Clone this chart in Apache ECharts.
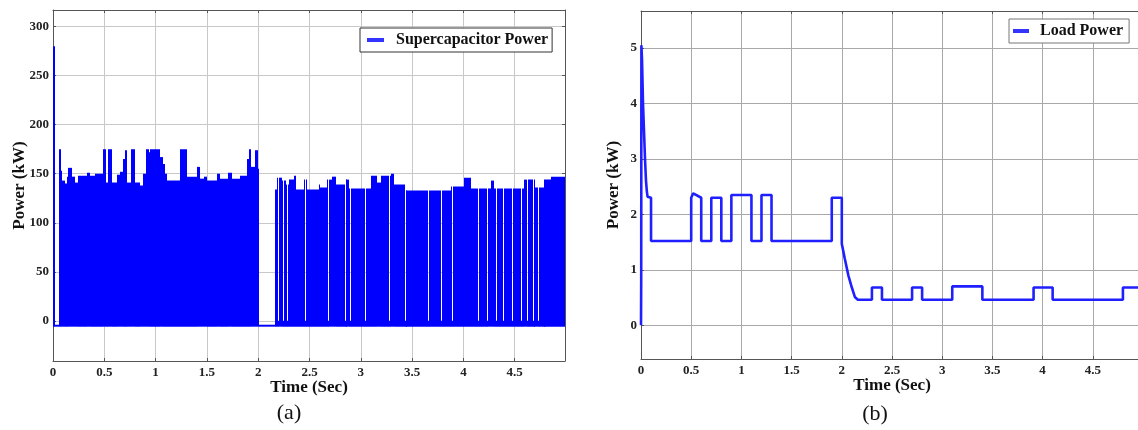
<!DOCTYPE html>
<html>
<head>
<meta charset="utf-8">
<title>Supercapacitor / load power</title>
<script src="https://cdn.jsdelivr.net/npm/echarts@6/dist/echarts.min.js"></script>
<style>
  html, body { margin: 0; padding: 0; background: #fff; }
  #main { width: 1138px; height: 430px; }
</style>
</head>
<body>
<div id="main"></div>
<script>
// tick labels
var timeTicks = [0, 0.5, 1, 1.5, 2, 2.5, 3, 3.5, 4, 4.5];
var capTicks = [0, 50, 100, 150, 200, 250, 300];
var loadTicks = [0, 1, 2, 3, 4, 5];

// (a) supercapacitor power - top edge of the switching band, as steps (sec, kW)
var capTime = [0, 0.016, 0.059, 0.078, 0.091, 0.117, 0.14, 0.15, 0.182, 0.215,
  0.247, 0.329, 0.361, 0.41, 0.49, 0.518, 0.54, 0.573, 0.622, 0.654,
  0.687, 0.703, 0.726, 0.758, 0.80, 0.85, 0.882, 0.908, 0.94, 0.95,
  1.04, 1.07, 1.09, 1.11, 1.24, 1.305, 1.40, 1.435, 1.47, 1.5,
  1.6, 1.63, 1.71, 1.745, 1.826, 1.89, 1.907, 1.93, 1.97, 1.995,
  2.012, 2.165, 2.184, 2.233, 2.266, 2.298, 2.347, 2.373, 2.445, 2.477,
  2.591, 2.607, 2.672, 2.721, 2.754, 2.852, 2.884, 3.096, 3.161, 3.193,
  3.291, 3.323, 3.437, 3.877, 4.007, 4.072, 4.268, 4.30, 4.593, 4.69,
  4.788, 4.854, 5.0];
var capPeak = [280, -4, 175, 153, 143, 140, 147, 156, 147, 141,
  148, 151, 148, 150, 175, 141, 175, 141, 149, 152,
  165, 174, 141, 175, 141, 138, 150, 175, 172, 175,
  167, 160, 150, 143, 175, 147, 157, 145, 147, 143,
  150, 145, 151, 145, 148, 165, 175, 157, 174, 155,
  -4, 134, 146, 143, 139, 144, 148, 134, 144, 134,
  139, 136, 144, 147, 139, 144, 135, 148, 141, 148,
  150, 139, 133, 137, 146, 135, 143, 135, 144, 136,
  144, 147, 147];
var capFloor = -6;
// thin white slots in the band after 2 s
var capGaps = [2.197, 2.246, 2.285, 2.457, 2.678, 2.848, 2.89, 3.044, 3.271, 3.428,
  3.655, 3.786, 3.89, 4.143, 4.231, 4.313, 4.388, 4.469, 4.558, 4.616,
  4.678, 4.727, 4.785];

// (b) load power (sec, kW)
var loadTime = [0, 0.002, 0.004, 0.01, 0.015, 0.02, 0.03, 0.04, 0.05, 0.058,
  0.065, 0.1, 0.1, 0.5, 0.5, 0.52, 0.6, 0.6, 0.7, 0.7,
  0.8, 0.8, 0.9, 0.9, 1.1, 1.1, 1.2, 1.2, 1.3, 1.3,
  1.9, 1.9, 2.0, 2.0, 2.03, 2.065, 2.1, 2.13, 2.16, 2.3,
  2.3, 2.4, 2.4, 2.7, 2.7, 2.8, 2.8, 3.1, 3.1, 3.4,
  3.4, 3.91, 3.91, 4.1, 4.1, 4.8, 4.8, 5.0];
var loadPower = [0, 0.8, 5.05, 4.8, 4.4, 4.0, 3.5, 3.0, 2.6, 2.42,
  2.32, 2.3, 1.52, 1.52, 2.3, 2.38, 2.3, 1.52, 1.52, 2.3,
  2.3, 1.52, 1.52, 2.35, 2.35, 1.52, 1.52, 2.35, 2.35, 1.52,
  1.52, 2.3, 2.3, 1.47, 1.2, 0.9, 0.68, 0.51, 0.46, 0.46,
  0.68, 0.68, 0.46, 0.46, 0.68, 0.68, 0.46, 0.46, 0.7, 0.7,
  0.46, 0.46, 0.68, 0.68, 0.46, 0.46, 0.68, 0.68];

function peakAt(t) {
  var v = capPeak[0];
  for (var i = 0; i < capTime.length; i++) {
    if (capTime[i] <= t) v = capPeak[i];
  }
  return v;
}
// breakpoints incl. the gap slots -> [t0, t1, level] blocks
var steps = capTime.map(function (t, i) { return [t, capPeak[i]]; });
capGaps.forEach(function (g) {
  steps.push([g, 0]);
  steps.push([g + 0.01, peakAt(g + 0.01)]);
});
steps.sort(function (a, b) { return a[0] - b[0]; });
var capData = [];
for (var i = 0; i < steps.length - 1; i++) {
  capData.push([steps[i][0], steps[i + 1][0], steps[i][1]]);
}
var loadData = loadTime.map(function (t, i) { return [t, loadPower[i]]; });

var serif = 'Liberation Serif';
var axisGray = '#555';
var labelStyle = { color: '#222', fontFamily: serif, fontWeight: 'bold', fontSize: 13 };
var nameStyle = { color: '#111', fontFamily: serif, fontWeight: 'bold', fontSize: 17 };

function mainX(grid, max, gridColor) {
  return {
    gridIndex: grid, type: 'value', min: 0, max: max, position: 'bottom',
    name: 'Time (Sec)', nameLocation: 'middle', nameGap: 18, nameTextStyle: nameStyle,
    nameMoveOverlap: false,
    axisLine: { show: true, onZero: false, lineStyle: { color: axisGray } },
    axisTick: { show: true, inside: true, length: 3, customValues: timeTicks, lineStyle: { color: axisGray } },
    axisLabel: Object.assign({ customValues: timeTicks, margin: 5 }, labelStyle),
    splitLine: { show: true, lineStyle: { color: gridColor, width: 1 } }
  };
}
function mirrorX(grid, max) {
  return {
    gridIndex: grid, type: 'value', min: 0, max: max, position: 'top',
    axisLine: { show: true, onZero: false, lineStyle: { color: axisGray } },
    axisTick: { show: true, inside: true, length: 3, customValues: timeTicks, lineStyle: { color: axisGray } },
    axisLabel: { show: false }, splitLine: { show: false }
  };
}
function mainY(grid, min, max, ticks, gap, gridColor) {
  return {
    gridIndex: grid, type: 'value', min: min, max: max, position: 'left',
    name: 'Power (kW)', nameLocation: 'middle', nameGap: gap, nameTextStyle: nameStyle,
    nameMoveOverlap: false,
    axisLine: { show: true, onZero: false, lineStyle: { color: axisGray } },
    axisTick: { show: true, inside: true, length: 3, customValues: ticks, lineStyle: { color: axisGray } },
    axisLabel: Object.assign({ customValues: ticks, margin: 4 }, labelStyle),
    splitLine: { show: true, lineStyle: { color: gridColor, width: 1 } }
  };
}
function mirrorY(grid, min, max, ticks) {
  return {
    gridIndex: grid, type: 'value', min: min, max: max, position: 'right',
    axisLine: { show: true, onZero: false, lineStyle: { color: axisGray } },
    axisTick: { show: true, inside: true, length: 3, customValues: ticks, lineStyle: { color: axisGray } },
    axisLabel: { show: false }, splitLine: { show: false }
  };
}

// one filled block per step, snapped to whole pixels so neighbours don't leave seams
function renderBlock(params, api) {
  var top = api.coord([api.value(0), api.value(2)]);
  var end = api.coord([api.value(1), capFloor]);
  var x0 = Math.round(top[0]);
  var x1 = Math.round(end[0]);
  return {
    type: 'rect',
    shape: { x: x0, y: top[1], width: Math.max(x1 - x0, 1), height: end[1] - top[1] },
    style: { fill: '#0000ff' }
  };
}

var myChart = echarts.init(document.getElementById('main'), null, { renderer: 'canvas' });

var option = {
  backgroundColor: '#fff',
  animation: false,
  grid: [
    { left: 53, top: 10, width: 512, height: 351, outerBoundsMode: 'none' },
    { left: 641, top: 11, width: 502, height: 348, outerBoundsMode: 'none' }
  ],
  xAxis: [
    mainX(0, 4.99, '#c8c8c8'),
    mainX(1, 5, '#a8a8a8'),
    mirrorX(0, 4.99),
    mirrorX(1, 5)
  ],
  yAxis: [
    mainY(0, -41, 317, capTicks, 25, '#c8c8c8'),
    mainY(1, -0.61, 5.67, loadTicks, 19, '#a8a8a8'),
    mirrorY(0, -41, 317, capTicks),
    mirrorY(1, -0.61, 5.67, loadTicks)
  ],
  legend: [
    {
      data: ['Supercapacitor Power'], left: 360, top: 28,
      padding: [4, 4, 4, 7], icon: 'rect', itemWidth: 17, itemHeight: 4,
      backgroundColor: '#fff', borderColor: '#333', borderWidth: 1,
      itemStyle: { color: '#3434ff' },
      textStyle: { color: '#111', fontFamily: serif, fontWeight: 'bold', fontSize: 16, padding: [0, 0, 0, 7] }
    },
    {
      data: ['Load Power'], left: 1009, top: 19,
      padding: [4, 6, 4, 4], icon: 'rect', itemWidth: 16, itemHeight: 4,
      backgroundColor: '#fff', borderColor: '#777', borderWidth: 1,
      itemStyle: { color: '#3434ff' },
      textStyle: { color: '#111', fontFamily: serif, fontWeight: 'bold', fontSize: 16, padding: [0, 0, 0, 6] }
    }
  ],
  graphic: [
    { type: 'text', x: 289, y: 413, style: { text: '(a)', fill: '#111', fontFamily: serif, fontSize: 22, align: 'center', verticalAlign: 'middle' } },
    { type: 'text', x: 875, y: 414, style: { text: '(b)', fill: '#111', fontFamily: serif, fontSize: 22, align: 'center', verticalAlign: 'middle' } }
  ],
  series: [
    {
      name: 'Supercapacitor Power', type: 'custom', xAxisIndex: 0, yAxisIndex: 0,
      data: capData, encode: { x: [0, 1], y: 2 },
      renderItem: renderBlock, clip: true,
      itemStyle: { color: '#0000ff' },
      z: 3
    },
    {
      name: 'Load Power', type: 'line', xAxisIndex: 1, yAxisIndex: 1,
      data: loadData, symbol: 'none',
      lineStyle: { width: 2.6, color: '#1f1fff' },
      itemStyle: { color: '#1f1fff' },
      z: 3
    }
  ]
};

myChart.setOption(option);
</script>
</body>
</html>
